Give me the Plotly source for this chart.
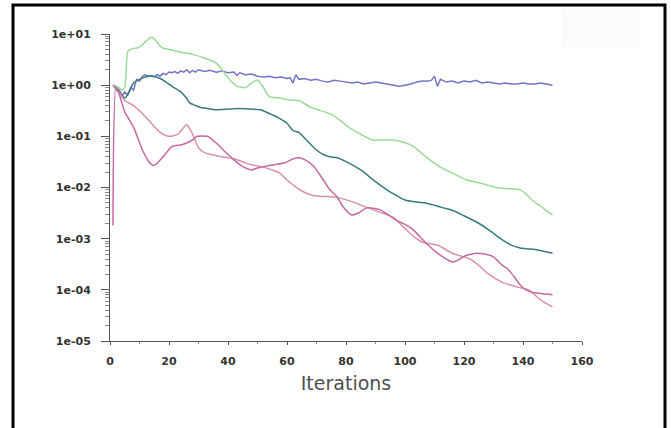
import plotly.graph_objects as go

# ---- data (iteration, residual) ----
blue_it = [1,2,3,4,5,6,7,8,9,10,11,12,13,14,15,16,17,18,19,20,21,22,23,24,25,26,27,28,29,30,32,34,36,38,40,42,43,44,46,48,50,52,54,56,58,60,61,62,63,64,66,68,70,72,74,76,78,80,82,84,86,88,90,92,94,96,98,100,102,104,106,108,109,110,111,112,114,116,118,120,122,124,126,128,130,132,134,136,138,140,142,144,146,148,150]
blue_val = [1.0,0.85,0.7,0.6,0.74,0.65,0.9,0.8,1.3,1.2,1.5,1.6,1.5,1.55,1.45,1.6,1.5,1.7,1.6,1.8,1.75,1.85,1.7,1.9,1.8,2.0,1.75,1.95,1.8,2.0,1.85,1.95,1.8,1.9,1.75,1.8,1.55,1.75,1.6,1.65,1.5,1.45,1.5,1.4,1.45,1.35,1.4,1.1,1.6,1.3,1.35,1.25,1.3,1.2,1.15,1.25,1.2,1.15,1.1,1.15,1.05,1.1,1.15,1.1,1.05,1.0,0.95,1.0,1.05,1.15,1.2,1.2,1.25,1.5,0.95,1.3,1.15,1.2,1.1,1.2,1.15,1.25,1.1,1.15,1.1,1.05,1.1,1.05,1.05,1.1,1.05,1.05,1.1,1.05,1.0]

green_it = [1,3,4,5,6,7,8,10,12,14,15,17.6,20,24,28,32,36,38,40,43,46,48,50,52,54,57.6,61,64,68,73.5,76,81,85,89,93,96,100,103,107,112,117,121,126,131,135,139,141,143,146,148,150]
green_val = [1.0,0.9,0.8,0.9,4.5,5.0,5.2,5.5,7.0,8.7,8.0,5.4,5.0,4.4,4.0,3.4,2.7,2.0,1.4,0.95,0.9,1.1,1.26,0.9,0.6,0.56,0.51,0.5,0.37,0.29,0.25,0.15,0.11,0.085,0.085,0.085,0.075,0.063,0.04,0.025,0.018,0.014,0.012,0.010,0.0095,0.009,0.0075,0.0057,0.0043,0.0035,0.0029]

teal_it = [1,3,5,6,8,10,12,14.6,17,19,21,24,26,27,29,30.5,33,36,40,44,48,51,54,56.5,60,62,64,67,70,72,74.5,77,80,85,90,94,97,100,104,107,110,113,116,120,125,129,133,136,139,142,145,148,150]
teal_val = [1.0,0.8,0.56,0.65,1.1,1.3,1.45,1.5,1.35,1.15,0.95,0.74,0.55,0.45,0.4,0.37,0.35,0.33,0.34,0.35,0.34,0.33,0.28,0.24,0.18,0.13,0.12,0.08,0.054,0.045,0.04,0.038,0.032,0.022,0.013,0.0089,0.007,0.0057,0.0052,0.005,0.0045,0.004,0.0036,0.0028,0.002,0.0014,0.00095,0.00075,0.00066,0.00063,0.0006,0.00055,0.00052]

rose_it = [1,3,5,8,11,14,17,20,23,25,26,27,28,30,32,35,40,43,46,49,52,55,57.6,60,63,66,69,72,75,78,82,86,89,92,96,99,103,106,111,116,122,125,128,133,139,142,145,147,150]
rose_val = [1.0,0.75,0.5,0.4,0.28,0.18,0.12,0.1,0.11,0.15,0.17,0.14,0.11,0.06,0.048,0.043,0.038,0.035,0.03,0.027,0.025,0.022,0.019,0.014,0.0102,0.008,0.007,0.0067,0.0066,0.0062,0.0053,0.0043,0.0037,0.0032,0.0026,0.0018,0.0011,0.00085,0.00075,0.00052,0.0004,0.0003,0.00021,0.00014,0.00011,0.0001,7e-5,5.8e-5,4.6e-5]

mag_it = [1,2,3,5,8,11,13,14.6,16,18,21,24,26,28,29.5,33,36,39,42,44,46,48,50,54,59,62,64,66,69,72,74.6,77,79,82,84.7,87,91.5,94,97,100,102.7,105,107,111,114,116,118,120,124,127,130,133,135,137,139,141,143,146,150]
mag_val = [0.0018,0.9,0.7,0.3,0.15,0.054,0.033,0.027,0.03,0.04,0.063,0.068,0.074,0.085,0.1,0.1,0.074,0.05,0.035,0.028,0.024,0.022,0.024,0.027,0.03,0.036,0.038,0.035,0.026,0.015,0.0089,0.0065,0.0042,0.0029,0.0033,0.004,0.0037,0.003,0.0023,0.0019,0.0015,0.0011,0.00083,0.00052,0.0004,0.00035,0.00038,0.00045,0.00052,0.0005,0.00044,0.0003,0.00025,0.00018,0.000126,0.0001,9e-5,8.5e-5,8e-5]

y_tickvals = [1e-5, 1e-4, 1e-3, 1e-2, 1e-1, 1e0, 1e1]
y_ticktext = ["1e-05", "1e-04", "1e-03", "1e-02", "1e-01", "1e+00", "1e+01"]
x_tickvals = [0, 20, 40, 60, 80, 100, 120, 140, 160]
x_title = "Iterations"

series = [
    (blue_it, blue_val, "#7474c6", "linear"),
    (green_it, green_val, "#9ada9a", "spline"),
    (teal_it, teal_val, "#3a7a7a", "spline"),
    (rose_it, rose_val, "#dc90a6", "spline"),
    (mag_it, mag_val, "#c46aa0", "spline"),
]

fig = go.Figure()
for xs, ys, col, shape in series:
    fig.add_trace(go.Scatter(x=xs, y=ys, mode="lines",
                             line=dict(color=col, width=1.5, shape=shape, smoothing=0.6),
                             showlegend=False, hoverinfo="skip"))

minor_vals = [k * 10 ** e for e in range(-5, 1) for k in range(2, 10)]

W, H = 671, 428
L, R, T, B = 110, 89, 34, 87
pw, ph = W - L - R, H - T - B

tick_font = dict(family="DejaVu Sans, sans-serif", size=11, color="#333333", weight="bold")

fig.update_layout(
    width=W, height=H,
    margin=dict(l=L, r=R, t=T, b=B, pad=0),
    paper_bgcolor="white", plot_bgcolor="white",
    font=dict(family="DejaVu Sans, sans-serif", color="#2a2a2a"),
    xaxis=dict(range=[0, 160], tickvals=x_tickvals,
               showgrid=False, zeroline=False, showline=True, linecolor="#555555", linewidth=1,
               ticks="outside", ticklen=3, tickcolor="#555555",
               tickfont=tick_font, ticklabelstandoff=7,
               minor=dict(tickvals=[10, 30, 50, 70, 90, 110, 130, 150], ticks="outside", ticklen=2, tickcolor="#888888"),
               title=dict(text=x_title, font=dict(family="DejaVu Sans, sans-serif", size=19, color="#505050"), standoff=9)),
    yaxis=dict(type="log", range=[-5, 1], tickvals=y_tickvals, ticktext=y_ticktext,
               showgrid=False, zeroline=False, showline=True, linecolor="#555555", linewidth=1,
               ticks="outside", ticklen=8, tickcolor="#555555",
               tickfont=tick_font, ticklabelstandoff=8,
               minor=dict(tickvals=minor_vals, ticks="outside", ticklen=4, tickcolor="#888888")),
    shapes=[
        dict(type="rect", xref="paper", yref="paper",
             x0=(13 - L) / pw, x1=(665 - L) / pw,
             y0=(T + ph - 440) / ph, y1=(T + ph - 5) / ph,
             line=dict(color="black", width=3), fillcolor="rgba(0,0,0,0)", layer="above"),
        dict(type="rect", xref="paper", yref="paper",
             x0=(562 - L) / pw, x1=(640 - L) / pw,
             y0=(T + ph - 47) / ph, y1=(T + ph - 9) / ph,
             line=dict(width=0), fillcolor="#fafbfb", layer="below"),
    ],
)

fig.write_html("out.html", config={"displayModeBar": False},
               post_script="document.body.style.margin='0';")
